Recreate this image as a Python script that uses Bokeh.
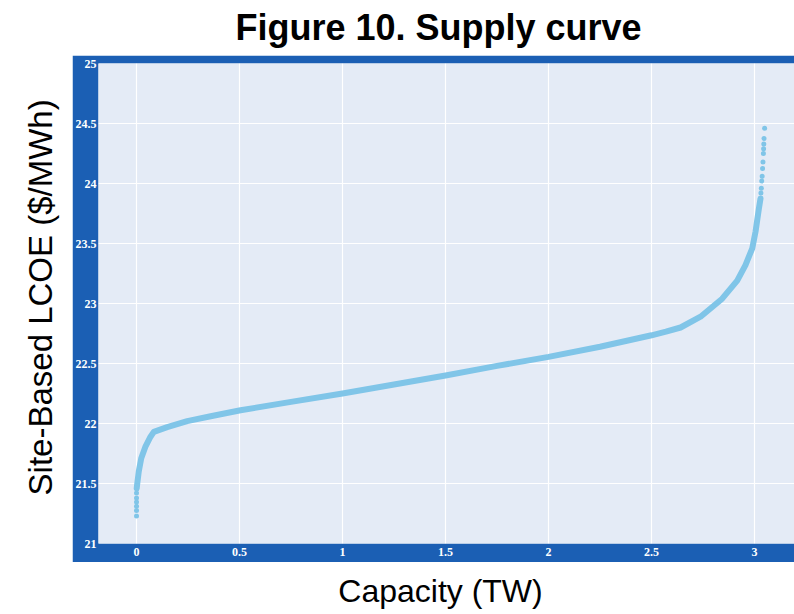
from math import pi
from bokeh.plotting import figure
from bokeh.layouts import column, row
from bokeh.models import Range1d, FixedTicker, ColumnDataSource, Label
from bokeh.embed import file_html
from bokeh.resources import INLINE

# Supply curve
capacity_tw = [0.001, 0.003, 0.011, 0.023, 0.044, 0.068, 0.084, 0.149, 0.246, 0.36, 0.505,
               0.75, 1.0, 1.25, 1.5, 1.75, 2.0, 2.25, 2.5, 2.57, 2.641, 2.738, 2.843,
               2.916, 2.956, 2.989, 3.005, 3.021, 3.029]
lcoe_usd_mwh = [21.46, 21.49, 21.6, 21.71, 21.81, 21.89, 21.93, 21.97, 22.02, 22.06, 22.11,
                22.18, 22.25, 22.325, 22.40, 22.48, 22.555, 22.64, 22.735, 22.765, 22.80,
                22.89, 23.04, 23.19, 23.32, 23.46, 23.60, 23.79, 23.875]

# Sparse sites at the two ends of the curve
tail_capacity_tw = [0.0, 0.0, 0.0, 0.0, 0.0, 0.0,
                    3.031, 3.033, 3.035, 3.037, 3.039, 3.041, 3.043, 3.044, 3.045, 3.046, 3.049]
tail_lcoe_usd_mwh = [21.23, 21.275, 21.31, 21.345, 21.38, 21.42,
                     23.92, 23.96, 24.02, 24.06, 24.125, 24.18, 24.25, 24.29, 24.33, 24.375, 24.46]

x_ticks = [0, 0.5, 1, 1.5, 2, 2.5, 3]
x_tick_labels = ["0", "0.5", "1", "1.5", "2", "2.5", "3"]
y_ticks = [21, 21.5, 22, 22.5, 23, 23.5, 24, 24.5, 25]
y_tick_labels = ["21", "21.5", "22", "22.5", "23", "23.5", "24", "24.5", "25"]

TITLE = "Figure 10. Supply curve"
X_LABEL = "Capacity (TW)"
Y_LABEL = "Site-Based LCOE ($/MWh)"

BLUE = "#1b5fb4"
BG = "#e4ebf6"
CURVE = "#80c5e8"
FONT = "Liberation Sans"


def blank(w, h):
    f = figure(width=w, height=h, output_backend="svg", toolbar_location=None,
               x_range=Range1d(0, w), y_range=Range1d(h, 0),
               x_axis_type=None, y_axis_type=None,
               min_border_left=0, min_border_right=0, min_border_top=0, min_border_bottom=0,
               background_fill_color="white", border_fill_color="white",
               outline_line_color=None)
    f.xgrid.visible = False
    f.ygrid.visible = False
    return f


# --- main plot (blue frame) ---
p = figure(frame_width=696, frame_height=480, output_backend="svg", toolbar_location=None,
           x_range=Range1d(-0.1845, 3.194), y_range=Range1d(21, 25),
           min_border_left=26, min_border_right=0, min_border_top=8, min_border_bottom=19,
           background_fill_color=BG, border_fill_color=BLUE, outline_line_color=None)

for ax, ticks, labels in ((p.xaxis[0], x_ticks, x_tick_labels), (p.yaxis[0], y_ticks, y_tick_labels)):
    ax.ticker = FixedTicker(ticks=ticks)
    ax.major_label_overrides = {t: l for t, l in zip(ticks, labels)}
    ax.axis_line_color = None
    ax.major_tick_line_color = None
    ax.minor_tick_line_color = None
    ax.major_label_text_color = "white"
    ax.major_label_text_font = "Liberation Serif"
    ax.major_label_text_font_style = "bold"
    ax.major_label_text_font_size = "12px"
    ax.major_tick_out = 0
    ax.major_tick_in = 0

p.yaxis[0].major_label_standoff = 2
p.xaxis[0].major_label_standoff = 4

p.xgrid.grid_line_color = "white"
p.ygrid.grid_line_color = "white"
p.xgrid.grid_line_width = 1.2
p.ygrid.grid_line_width = 1.2

src = ColumnDataSource(dict(x=capacity_tw, y=lcoe_usd_mwh))
p.line("x", "y", source=src, line_color=CURVE, line_width=6, line_cap="round", line_join="round")
tails = ColumnDataSource(dict(x=tail_capacity_tw, y=tail_lcoe_usd_mwh))
p.scatter("x", "y", source=tails, size=5, fill_color=CURVE, line_color=None)

# --- title and axis titles ---
t = blank(794, 55)
t.add_layout(Label(x=438, y=27, text=TITLE, text_font=FONT, text_font_size="36px",
                   text_font_style="bold", text_color="black", text_align="center",
                   text_baseline="alphabetic"))

yl = blank(72, 507)
yl.add_layout(Label(x=40, y=247, text=Y_LABEL, angle=pi / 2, text_font=FONT,
                    text_font_size="33px", text_color="black", text_align="center",
                    text_baseline="middle"))

xl = blank(794, 52)
xl.add_layout(Label(x=440, y=28, text=X_LABEL, text_font=FONT, text_font_size="32px",
                    text_color="black", text_align="center", text_baseline="alphabetic"))

layout = column(t, row(yl, p, spacing=0), xl, spacing=0)

open("out.html", "w").write(file_html(layout, INLINE))
